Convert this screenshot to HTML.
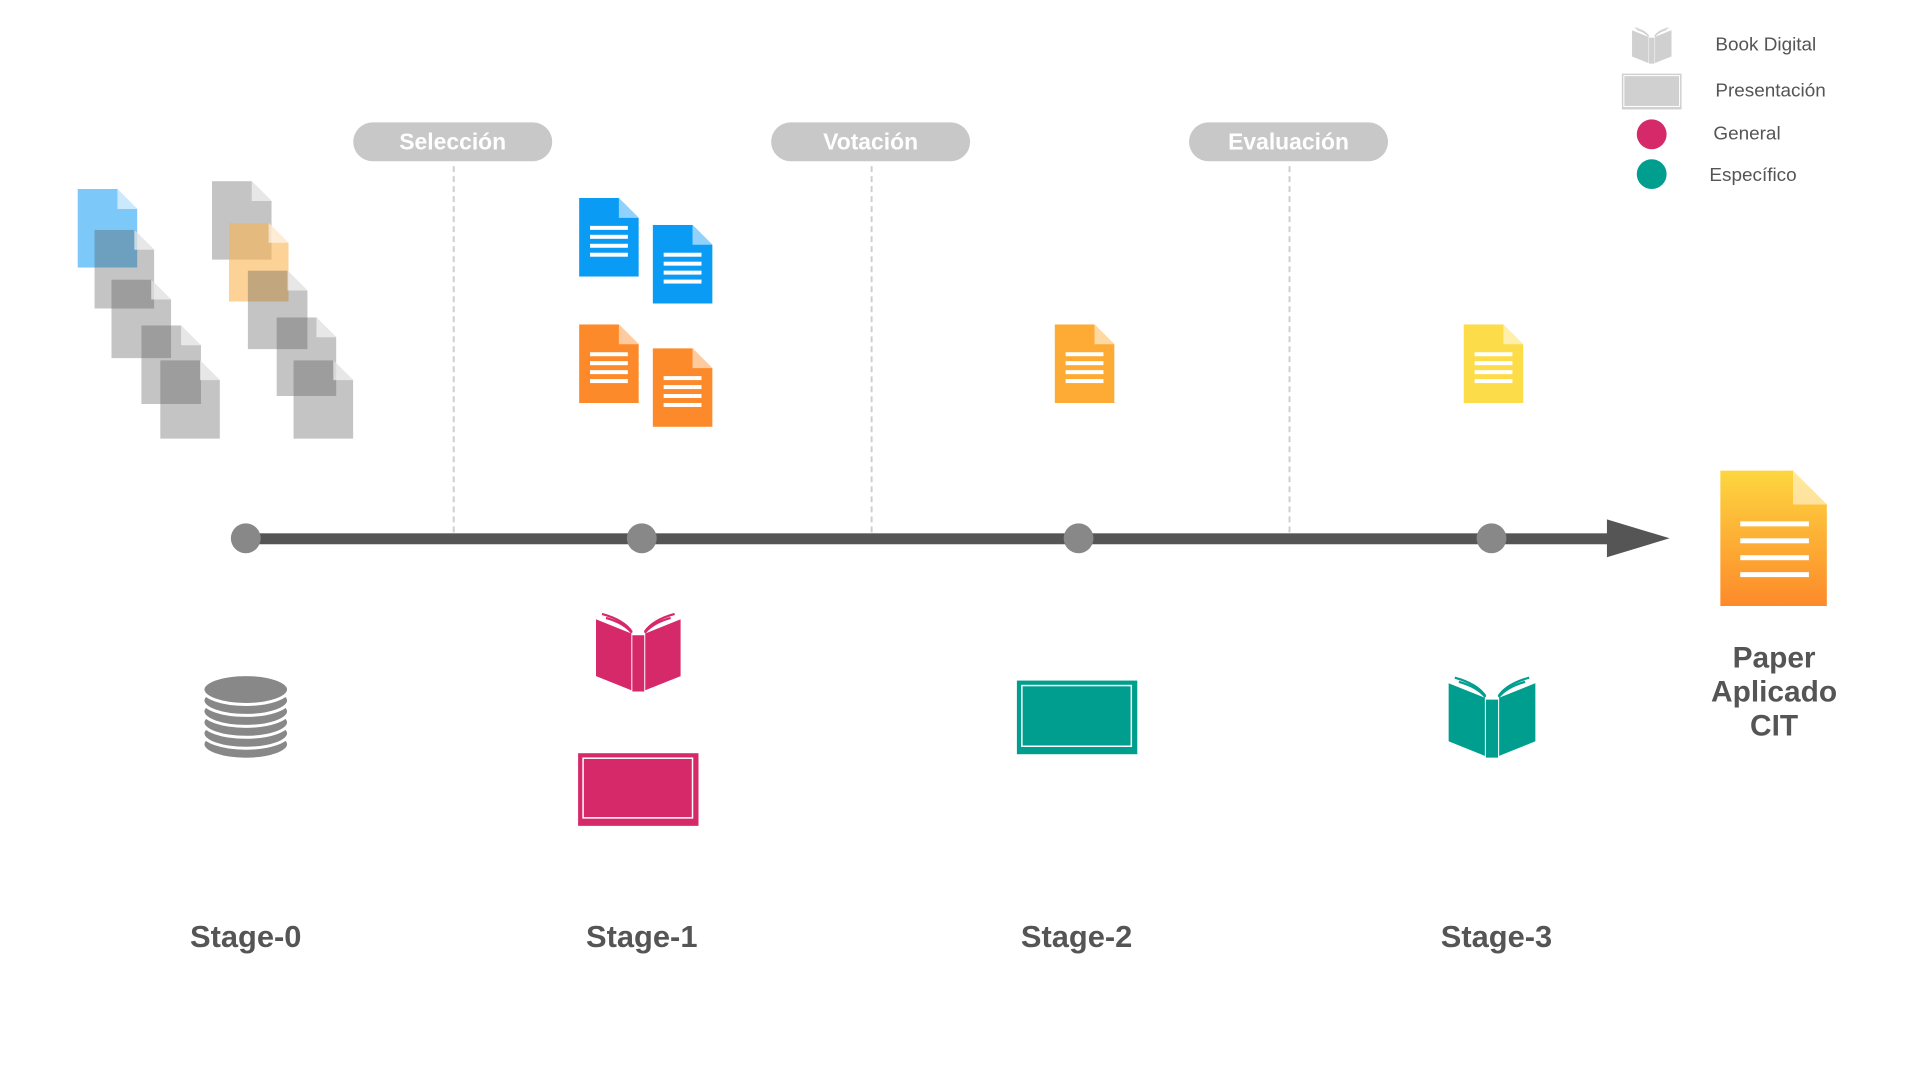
<!DOCTYPE html>
<html><head><meta charset="utf-8"><style>
body{margin:0;width:1920px;height:1080px;background:#fff;overflow:hidden;position:relative;font-family:"Liberation Sans",sans-serif}
#w{position:absolute;left:0;top:0;width:1920px;height:1080px;transform:scale(0.995);transform-origin:0 0}
.a{position:absolute}
.pill{position:absolute;width:200px;height:39px;border-radius:20px;background:#c8c8c8;color:#fff;font-weight:bold;font-size:23px;text-align:center;line-height:39px}
.dash{position:absolute;width:0;border-left:2px dashed #cfcfcf;top:167px;height:368px}
.st{position:absolute;top:924px;width:200px;text-align:center;font-weight:bold;font-size:31px;color:#555}
.lg{position:absolute;font-size:19px;color:#555}
</style></head><body><div id="w">
<svg class="a" style="left:0;top:0" width="1920" height="1080">
<defs>
<symbol id="doc" viewBox="0 0 60 79"><path d="M0 0H40L60 20V79H0Z"/><path d="M40 0L60 20H40Z" fill="#fff" opacity=".55"/><g fill="#fff"><rect x="11" y="28" width="38" height="4"/><rect x="11" y="37" width="38" height="4"/><rect x="11" y="46" width="38" height="4"/><rect x="11" y="55" width="38" height="4"/></g></symbol>
<symbol id="gdoc" viewBox="0 0 60 79"><path d="M0 0H40L60 20V79H0Z"/><path d="M40 0L60 20H40Z" fill="#fff" opacity=".6"/></symbol>
<symbol id="book" viewBox="0 0 85 80"><path d="M0 8L35 22V78L0 64Z"/><path d="M37 24H48V80H37Z"/><path d="M50 22L85 8V64L50 78Z"/><g fill="none" stroke-width="2.2"><path d="M6 2Q28 8 36 20"/><path d="M10 6Q28 11 36 21"/><path d="M79 2Q57 8 49 20"/><path d="M75 6Q57 11 49 21"/></g></symbol>
<linearGradient id="gr" x1="0" y1="0" x2="0" y2="1"><stop offset="0" stop-color="#fdd640"/><stop offset="1" stop-color="#fd8a2a"/></linearGradient>
</defs>
<rect x="247" y="536" width="1370" height="11" fill="#555"/>
<path d="M1615 522L1678 541L1615 560Z" fill="#555"/>
<g fill="#888"><circle cx="247" cy="541" r="15"/><circle cx="645" cy="541" r="15"/><circle cx="1084" cy="541" r="15"/><circle cx="1499" cy="541" r="15"/></g>
<use href="#gdoc" x="78" y="190" width="60" height="79" fill="#7cc8f8"/>
<g fill="rgba(81,81,81,0.34)">
<use href="#gdoc" x="95" y="231" width="60" height="79"/>
<use href="#gdoc" x="112" y="281" width="60" height="79"/>
<use href="#gdoc" x="142" y="327" width="60" height="79"/>
<use href="#gdoc" x="161" y="362" width="60" height="79"/>
<use href="#gdoc" x="213" y="182" width="60" height="79"/>
</g>
<use href="#gdoc" x="230" y="224" width="60" height="79" fill="rgba(250,180,80,0.6)"/>
<g fill="rgba(81,81,81,0.34)">
<use href="#gdoc" x="249" y="272" width="60" height="79"/>
<use href="#gdoc" x="278" y="319" width="60" height="79"/>
<use href="#gdoc" x="295" y="362" width="60" height="79"/>
</g>
<use href="#doc" x="582" y="199" width="60" height="79" fill="#0a9cf5"/>
<use href="#doc" x="656" y="226" width="60" height="79" fill="#0a9cf5"/>
<use href="#doc" x="582" y="326" width="60" height="79" fill="#fd8a2a"/>
<use href="#doc" x="656" y="350" width="60" height="79" fill="#fd8a2a"/>
<use href="#doc" x="1060" y="326" width="60" height="79" fill="#fdab35"/>
<use href="#doc" x="1471" y="326" width="60" height="79" fill="#fddc4a"/>
<path d="M1729 473H1802L1836 507V609H1729Z" fill="url(#gr)"/>
<path d="M1802 473L1836 507H1802Z" fill="#fff" opacity=".5"/>
<g fill="#fff"><rect x="1749" y="524" width="69" height="5"/><rect x="1749" y="541" width="69" height="5"/><rect x="1749" y="558" width="69" height="5"/><rect x="1749" y="575" width="69" height="5"/></g>
<g fill="#888" stroke="#fff" stroke-width="3">
<ellipse cx="247" cy="748" rx="43" ry="15"/><ellipse cx="247" cy="737" rx="43" ry="15"/><ellipse cx="247" cy="726" rx="43" ry="15"/><ellipse cx="247" cy="715" rx="43" ry="15"/><ellipse cx="247" cy="704" rx="43" ry="15"/><ellipse cx="247" cy="693" rx="43" ry="15"/>
</g>
<use href="#book" x="599" y="615" width="85" height="80" fill="#d6296a" stroke="#d6296a"/>
<use href="#book" x="1456" y="678" width="87" height="84" fill="#009e8e" stroke="#009e8e"/>
<rect x="581" y="757" width="121" height="73" fill="#d6296a"/><rect x="586" y="762" width="110" height="60" fill="none" stroke="#fff" stroke-width="1.5"/>
<rect x="1022" y="684" width="121" height="74" fill="#009e8e"/><rect x="1027" y="689" width="110" height="61" fill="none" stroke="#fff" stroke-width="1.5"/>
<use href="#book" x="1640" y="27" width="40" height="37" fill="#d0d0d0" stroke="#d0d0d0"/>
<rect x="1630" y="74" width="60" height="36" fill="#d0d0d0"/><rect x="1632" y="76" width="56" height="31" fill="none" stroke="#fff" stroke-width="1"/>
<circle cx="1660" cy="135" r="15" fill="#d6296a"/>
<circle cx="1660" cy="175" r="15" fill="#009e8e"/>
</svg>
<div class="pill" style="left:355px;top:123px">Selección</div>
<div class="pill" style="left:775px;top:123px">Votación</div>
<div class="pill" style="left:1195px;top:123px">Evaluación</div>
<div class="dash" style="left:455px"></div>
<div class="dash" style="left:875px"></div>
<div class="dash" style="left:1295px"></div>
<div class="lg" style="left:1724px;top:35px">Book Digital</div>
<div class="lg" style="left:1724px;top:81px">Presentación</div>
<div class="lg" style="left:1722px;top:124px">General</div>
<div class="lg" style="left:1718px;top:166px">Específico</div>
<div class="st" style="left:147px">Stage-0</div>
<div class="st" style="left:545px">Stage-1</div>
<div class="st" style="left:982px">Stage-2</div>
<div class="st" style="left:1404px">Stage-3</div>
<div class="a" style="left:1683px;top:645px;width:200px;text-align:center;font-weight:bold;font-size:30px;line-height:34px;color:#555">Paper<br>Aplicado<br>CIT</div>
</div></body></html>
